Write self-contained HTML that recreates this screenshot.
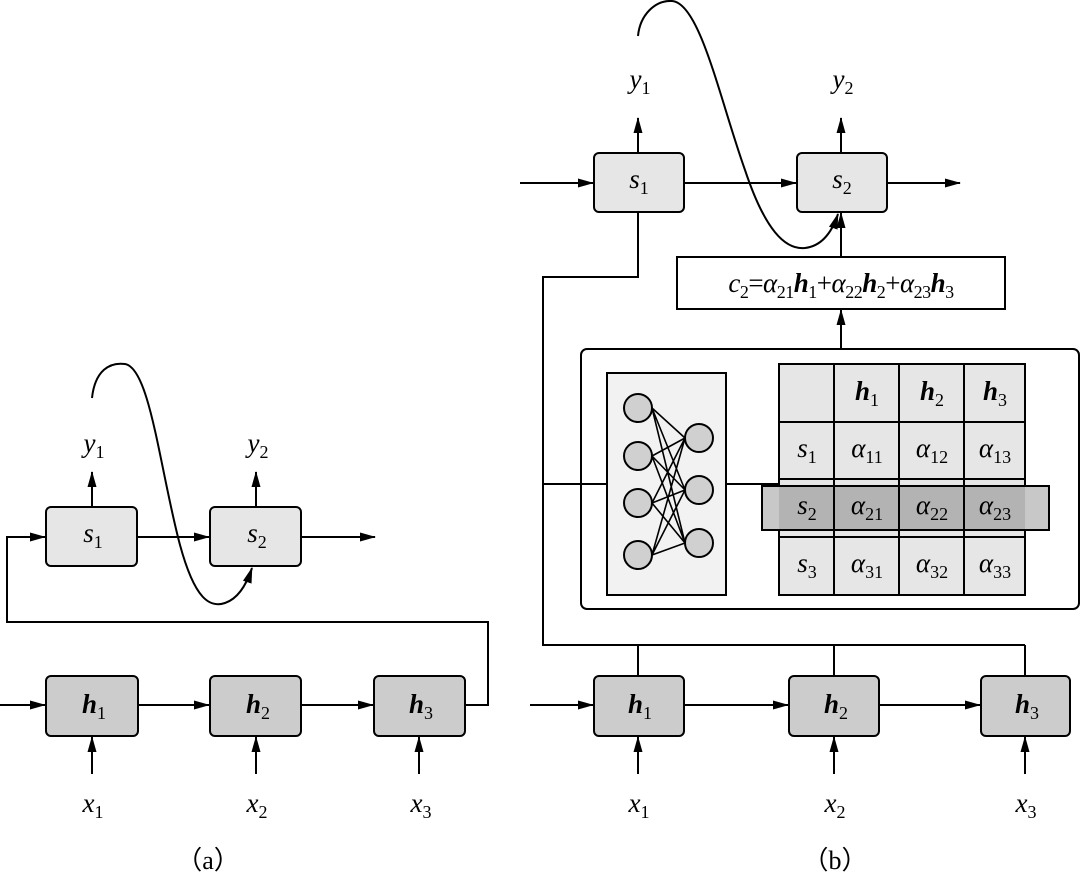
<!DOCTYPE html>
<html><head><meta charset="utf-8"><style>
html,body{margin:0;padding:0;background:#fff}
svg{display:block}
text,tspan{font-family:"Liberation Serif","Times New Roman",Times,"DejaVu Serif",serif}
</style></head><body>
<svg width="1080" height="889" viewBox="0 0 1080 889" xmlns="http://www.w3.org/2000/svg">
<defs>
<marker id="a" markerWidth="16" markerHeight="10" refX="15" refY="5" orient="auto" markerUnits="userSpaceOnUse">
<path d="M0,0.5 L16,5 L0,9.5 Z" fill="#000"/></marker>
</defs>
<g stroke="#000" stroke-width="2" fill="none">
<rect x="46" y="507" width="91" height="59" rx="5" fill="#e6e6e6"/>
<rect x="210" y="507" width="91" height="59" rx="5" fill="#e6e6e6"/>
<rect x="46" y="676" width="92" height="60" rx="5" fill="#cccccc"/>
<rect x="210" y="676" width="91" height="60" rx="5" fill="#cccccc"/>
<rect x="374" y="676" width="91" height="60" rx="5" fill="#cccccc"/>
<line x1="92" y1="507" x2="92" y2="472" marker-end="url(#a)"/>
<line x1="256" y1="507" x2="256" y2="472" marker-end="url(#a)"/>
<line x1="137" y1="537" x2="209" y2="537" marker-end="url(#a)"/>
<line x1="301" y1="537" x2="375" y2="537" marker-end="url(#a)"/>
<polyline points="465,705 488,705 488,622 7,622 7,537 45,537" marker-end="url(#a)"/>
<line x1="0" y1="705" x2="45" y2="705" marker-end="url(#a)"/>
<line x1="138" y1="705" x2="209" y2="705" marker-end="url(#a)"/>
<line x1="301" y1="705" x2="373" y2="705" marker-end="url(#a)"/>
<line x1="92" y1="774" x2="92" y2="737" marker-end="url(#a)"/>
<line x1="256" y1="774" x2="256" y2="737" marker-end="url(#a)"/>
<line x1="419" y1="774" x2="419" y2="737" marker-end="url(#a)"/>
<path d="M92,398 C95,370 110,362 125,364 C150,368 160,470 180,545 C195,600 210,608 225,603 C240,598 248,580 252,568" marker-end="url(#a)"/>
<rect x="594" y="153" width="90" height="59" rx="5" fill="#e6e6e6"/>
<rect x="797" y="153" width="90" height="59" rx="5" fill="#e6e6e6"/>
<line x1="638" y1="153" x2="638" y2="118" marker-end="url(#a)"/>
<line x1="841" y1="153" x2="841" y2="118" marker-end="url(#a)"/>
<line x1="520" y1="183" x2="593" y2="183" marker-end="url(#a)"/>
<line x1="684" y1="183" x2="796" y2="183" marker-end="url(#a)"/>
<line x1="887" y1="183" x2="960" y2="183" marker-end="url(#a)"/>
<rect x="677" y="257" width="328" height="52" fill="#fff"/>
<line x1="841" y1="257" x2="841" y2="213" marker-end="url(#a)"/>
<line x1="841" y1="349" x2="841" y2="310" marker-end="url(#a)"/>
<path d="M638,36 C640,15 655,0 672,1 C700,3 720,100 745,170 C765,230 785,250 805,248 C822,246 832,232 838,214" marker-end="url(#a)"/>
<polyline points="638,212 638,277 543,277 543,645 1025,645"/>
<line x1="638" y1="645" x2="638" y2="676"/>
<line x1="834" y1="645" x2="834" y2="676"/>
<line x1="1025" y1="645" x2="1025" y2="676"/>
<rect x="581" y="349" width="498" height="260" rx="6" fill="#fff"/>
<line x1="543" y1="484" x2="607" y2="484"/>
<rect x="607" y="373" width="119" height="222" fill="#f2f2f2"/>
<line x1="726" y1="484" x2="779" y2="484"/>
<g stroke-width="1.6">
<path d="M652,408L685,438M652,408L685,490M652,408L685,543M652,456L685,438M652,456L685,490M652,456L685,543M652,503L685,438M652,503L685,490M652,503L685,543M652,555L685,438M652,555L685,490M652,555L685,543"/>
</g>
<g fill="#d0d0d0">
<circle cx="638" cy="408" r="14"/><circle cx="638" cy="456" r="14"/><circle cx="638" cy="503" r="14"/><circle cx="638" cy="555" r="14"/>
<circle cx="699" cy="438" r="14"/><circle cx="699" cy="490" r="14"/><circle cx="699" cy="543" r="14"/>
</g>
<rect x="779" y="364" width="246" height="231" fill="#e6e6e6"/>
<line x1="834" y1="364" x2="834" y2="595"/><line x1="899" y1="364" x2="899" y2="595"/><line x1="964" y1="364" x2="964" y2="595"/>
<line x1="779" y1="422" x2="1025" y2="422"/><line x1="779" y1="479" x2="1025" y2="479"/><line x1="779" y1="537" x2="1025" y2="537"/>
<rect x="762" y="486" width="287" height="44" fill="#c8c8c8"/>
<rect x="779" y="486" width="246" height="44" fill="#b3b3b3" stroke="none"/>
<rect x="762" y="486" width="287" height="44" fill="none"/>
<line x1="834" y1="486" x2="834" y2="530"/><line x1="899" y1="486" x2="899" y2="530"/><line x1="964" y1="486" x2="964" y2="530"/>
<rect x="594" y="676" width="90" height="60" rx="5" fill="#cccccc"/>
<rect x="789" y="676" width="90" height="60" rx="5" fill="#cccccc"/>
<rect x="981" y="676" width="89" height="60" rx="5" fill="#cccccc"/>
<line x1="530" y1="705" x2="593" y2="705" marker-end="url(#a)"/>
<line x1="684" y1="705" x2="788" y2="705" marker-end="url(#a)"/>
<line x1="879" y1="705" x2="980" y2="705" marker-end="url(#a)"/>
<line x1="638" y1="774" x2="638" y2="737" marker-end="url(#a)"/>
<line x1="834" y1="774" x2="834" y2="737" marker-end="url(#a)"/>
<line x1="1025" y1="774" x2="1025" y2="737" marker-end="url(#a)"/>
</g>
<g text-anchor="middle" font-size="27" font-style="italic" fill="#000">
<text x="94" y="452">y<tspan font-size="18" font-style="normal" dy="6">1</tspan></text>
<text x="258" y="452">y<tspan font-size="18" font-style="normal" dy="6">2</tspan></text>
<text x="93" y="542">s<tspan font-size="18" font-style="normal" dy="6">1</tspan></text>
<text x="257" y="542">s<tspan font-size="18" font-style="normal" dy="6">2</tspan></text>
<text x="94" y="713" font-weight="bold">h<tspan font-size="18" font-style="normal" font-weight="normal" dy="6">1</tspan></text>
<text x="258" y="713" font-weight="bold">h<tspan font-size="18" font-style="normal" font-weight="normal" dy="6">2</tspan></text>
<text x="421" y="713" font-weight="bold">h<tspan font-size="18" font-style="normal" font-weight="normal" dy="6">3</tspan></text>
<text x="93" y="812">x<tspan font-size="18" font-style="normal" dy="6">1</tspan></text>
<text x="257" y="812">x<tspan font-size="18" font-style="normal" dy="6">2</tspan></text>
<text x="421" y="812">x<tspan font-size="18" font-style="normal" dy="6">3</tspan></text>
<text x="208" y="869" font-style="normal" font-size="26">（a）</text>
<text x="640" y="88">y<tspan font-size="18" font-style="normal" dy="6">1</tspan></text>
<text x="843" y="88">y<tspan font-size="18" font-style="normal" dy="6">2</tspan></text>
<text x="639" y="188">s<tspan font-size="18" font-style="normal" dy="6">1</tspan></text>
<text x="842" y="188">s<tspan font-size="18" font-style="normal" dy="6">2</tspan></text>
<text x="841" y="292" letter-spacing="-0.5">c<tspan font-size="18" font-style="normal" dy="6">2</tspan><tspan dy="-6" font-style="normal">=</tspan>α<tspan font-size="18" font-style="normal" dy="6">21</tspan><tspan dy="-6" font-weight="bold">h</tspan><tspan font-size="18" font-style="normal" dy="6">1</tspan><tspan dy="-6" font-style="normal">+</tspan>α<tspan font-size="18" font-style="normal" dy="6">22</tspan><tspan dy="-6" font-weight="bold">h</tspan><tspan font-size="18" font-style="normal" dy="6">2</tspan><tspan dy="-6" font-style="normal">+</tspan>α<tspan font-size="18" font-style="normal" dy="6">23</tspan><tspan dy="-6" font-weight="bold">h</tspan><tspan font-size="18" font-style="normal" dy="6">3</tspan></text>
<text x="867" y="400" font-weight="bold">h<tspan font-size="18" font-style="normal" font-weight="normal" dy="6">1</tspan></text>
<text x="932" y="400" font-weight="bold">h<tspan font-size="18" font-style="normal" font-weight="normal" dy="6">2</tspan></text>
<text x="995" y="400" font-weight="bold">h<tspan font-size="18" font-style="normal" font-weight="normal" dy="6">3</tspan></text>
<text x="807" y="457">s<tspan font-size="18" font-style="normal" dy="6">1</tspan></text>
<text x="807" y="514">s<tspan font-size="18" font-style="normal" dy="6">2</tspan></text>
<text x="807" y="572">s<tspan font-size="18" font-style="normal" dy="6">3</tspan></text>
<text x="867" y="457">α<tspan font-size="18" font-style="normal" dy="6">11</tspan></text>
<text x="932" y="457">α<tspan font-size="18" font-style="normal" dy="6">12</tspan></text>
<text x="995" y="457">α<tspan font-size="18" font-style="normal" dy="6">13</tspan></text>
<text x="867" y="514">α<tspan font-size="18" font-style="normal" dy="6">21</tspan></text>
<text x="932" y="514">α<tspan font-size="18" font-style="normal" dy="6">22</tspan></text>
<text x="995" y="514">α<tspan font-size="18" font-style="normal" dy="6">23</tspan></text>
<text x="867" y="572">α<tspan font-size="18" font-style="normal" dy="6">31</tspan></text>
<text x="932" y="572">α<tspan font-size="18" font-style="normal" dy="6">32</tspan></text>
<text x="995" y="572">α<tspan font-size="18" font-style="normal" dy="6">33</tspan></text>
<text x="640" y="713" font-weight="bold">h<tspan font-size="18" font-style="normal" font-weight="normal" dy="6">1</tspan></text>
<text x="836" y="713" font-weight="bold">h<tspan font-size="18" font-style="normal" font-weight="normal" dy="6">2</tspan></text>
<text x="1027" y="713" font-weight="bold">h<tspan font-size="18" font-style="normal" font-weight="normal" dy="6">3</tspan></text>
<text x="639" y="812">x<tspan font-size="18" font-style="normal" dy="6">1</tspan></text>
<text x="835" y="812">x<tspan font-size="18" font-style="normal" dy="6">2</tspan></text>
<text x="1026" y="812">x<tspan font-size="18" font-style="normal" dy="6">3</tspan></text>
<text x="835" y="869" font-style="normal" font-size="26">（b）</text>
</g>
</svg>
</body></html>
